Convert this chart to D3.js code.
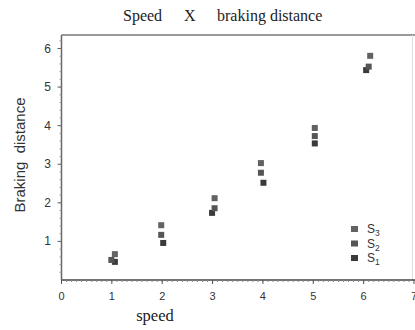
<!DOCTYPE html>
<html>
<head>
<meta charset="utf-8">
<script src="https://cdn.jsdelivr.net/npm/d3@7"></script>
<style>
body { margin: 0; background: #fff; }
</style>
</head>
<body>
<script>
var width = 415,
    height = 330;

// values
var seriesNames = ['S1', 'S2', 'S3'];
var s1Speed = [1.06, 2.02, 2.99, 4.01, 5.03, 6.05];
var s1Dist  = [0.47, 0.96, 1.74, 2.52, 3.54, 5.44];
var s2Speed = [0.99, 1.98, 3.04, 3.96, 5.03, 6.10];
var s2Dist  = [0.52, 1.17, 1.86, 2.78, 3.73, 5.53];
var s3Speed = [1.06, 1.98, 3.04, 3.96, 5.03, 6.13];
var s3Dist  = [0.67, 1.42, 2.12, 3.03, 3.94, 5.81];
var xTicks = [0, 1, 2, 3, 4, 5, 6, 7];
var yTicks = [1, 2, 3, 4, 5, 6];

var colors = {S1: '#3a3a3a', S2: '#555', S3: '#626262'};

var series = [
  {name: 'S1', x: s1Speed, y: s1Dist},
  {name: 'S2', x: s2Speed, y: s2Dist},
  {name: 'S3', x: s3Speed, y: s3Dist}
];

var svg = d3.select('body')
  .append('svg')
  .attr('width', width)
  .attr('height', height);

var x = d3.scaleLinear().domain([0, 7]).range([61.5, 414]);
var y = d3.scaleLinear().domain([0, 6.35]).range([280, 35]);

// frame
svg.append('line')
  .attr('x1', x(0)).attr('x2', width)
  .attr('y1', 35).attr('y2', 35)
  .attr('stroke', '#777').attr('stroke-width', 1.5);
svg.append('line')
  .attr('x1', 412.5).attr('x2', 412.5)
  .attr('y1', 35).attr('y2', 280)
  .attr('stroke', '#ddd');

// x axis
var xAxis = svg.append('g')
  .attr('transform', 'translate(0,280)');
xAxis.append('line')
  .attr('x1', x(0)).attr('x2', width)
  .attr('stroke', '#444').attr('stroke-width', 1.5);
xAxis.selectAll('.minor')
  .data(d3.range(0, 70).map(function(i) { return i / 10; }))
  .enter().append('line')
  .attr('x1', d => x(d)).attr('x2', d => x(d))
  .attr('y1', 0).attr('y2', 2)
  .attr('stroke', '#888');
xAxis.selectAll('.major')
  .data(xTicks)
  .enter().append('line')
  .attr('x1', d => x(d)).attr('x2', d => x(d))
  .attr('y1', 0).attr('y2', 4)
  .attr('stroke', '#555');
xAxis.selectAll('text')
  .data(xTicks)
  .enter().append('text')
  .attr('x', d => x(d))
  .attr('y', 20)
  .attr('text-anchor', 'middle')
  .attr('font-family', 'Liberation Sans, Arial, sans-serif')
  .attr('font-size', 11)
  .attr('fill', '#333')
  .text(d => d);

// y axis
var yAxis = svg.append('g');
yAxis.append('line')
  .attr('x1', x(0)).attr('x2', x(0))
  .attr('y1', 35).attr('y2', 280)
  .attr('stroke', '#666').attr('stroke-width', 1.5);
yAxis.selectAll('.minor')
  .data(d3.range(1, 32).map(function(i) { return i / 5; }))
  .enter().append('line')
  .attr('x1', x(0) - 2).attr('x2', x(0))
  .attr('y1', d => y(d)).attr('y2', d => y(d))
  .attr('stroke', '#999');
yAxis.selectAll('.major')
  .data(yTicks)
  .enter().append('line')
  .attr('x1', x(0) - 4).attr('x2', x(0))
  .attr('y1', d => y(d)).attr('y2', d => y(d))
  .attr('stroke', '#666');
yAxis.selectAll('text')
  .data(yTicks)
  .enter().append('text')
  .attr('x', 51)
  .attr('y', d => y(d) + 4)
  .attr('text-anchor', 'end')
  .attr('font-family', 'Liberation Sans, Arial, sans-serif')
  .attr('font-size', 12)
  .attr('fill', '#333')
  .text(d => d);

// points
series.forEach(function(s) {
  svg.append('g').selectAll('rect')
    .data(s.x.map(function(v, i) { return [v, s.y[i]]; }))
    .enter().append('rect')
    .attr('x', d => x(d[0]) - 3)
    .attr('y', d => y(d[1]) - 3)
    .attr('width', 6)
    .attr('height', 6)
    .attr('fill', colors[s.name]);
});

// legend
var legend = svg.append('g').attr('transform', 'translate(351,229)');
seriesNames.slice().reverse().forEach(function(n, i) {
  var row = legend.append('g').attr('transform', 'translate(0,' + (i * 14.5) + ')');
  row.append('rect')
    .attr('x', 0).attr('y', -3)
    .attr('width', 7).attr('height', 6)
    .attr('fill', colors[n]);
  var t = row.append('text')
    .attr('x', 16).attr('y', 4)
    .attr('font-family', 'Liberation Sans, Arial, sans-serif')
    .attr('font-size', 12)
    .attr('fill', '#333');
  t.append('tspan').text('S');
  t.append('tspan').attr('dy', 3).attr('font-size', 8.5).text(n.slice(1));
});

// titles
var title = svg.append('text')
  .attr('y', 21)
  .attr('font-family', 'Liberation Serif, Times New Roman, serif')
  .attr('font-size', 16)
  .attr('fill', '#222');
title.append('tspan').attr('x', 123).text('Speed');
title.append('tspan').attr('x', 184).text('X');
title.append('tspan').attr('x', 217).text('braking distance');

svg.append('text')
  .attr('x', 155).attr('y', 321)
  .attr('text-anchor', 'middle')
  .attr('font-family', 'Liberation Serif, Times New Roman, serif')
  .attr('font-size', 16.5)
  .attr('fill', '#222')
  .text('speed');

svg.append('text')
  .attr('transform', 'translate(25,155) rotate(-90)')
  .attr('text-anchor', 'middle')
  .attr('font-family', 'Liberation Sans, Arial, sans-serif')
  .attr('font-size', 15)
  .attr('fill', '#333')
  .style('white-space', 'pre')
  .text('Braking  distance');
</script>
</body>
</html>
